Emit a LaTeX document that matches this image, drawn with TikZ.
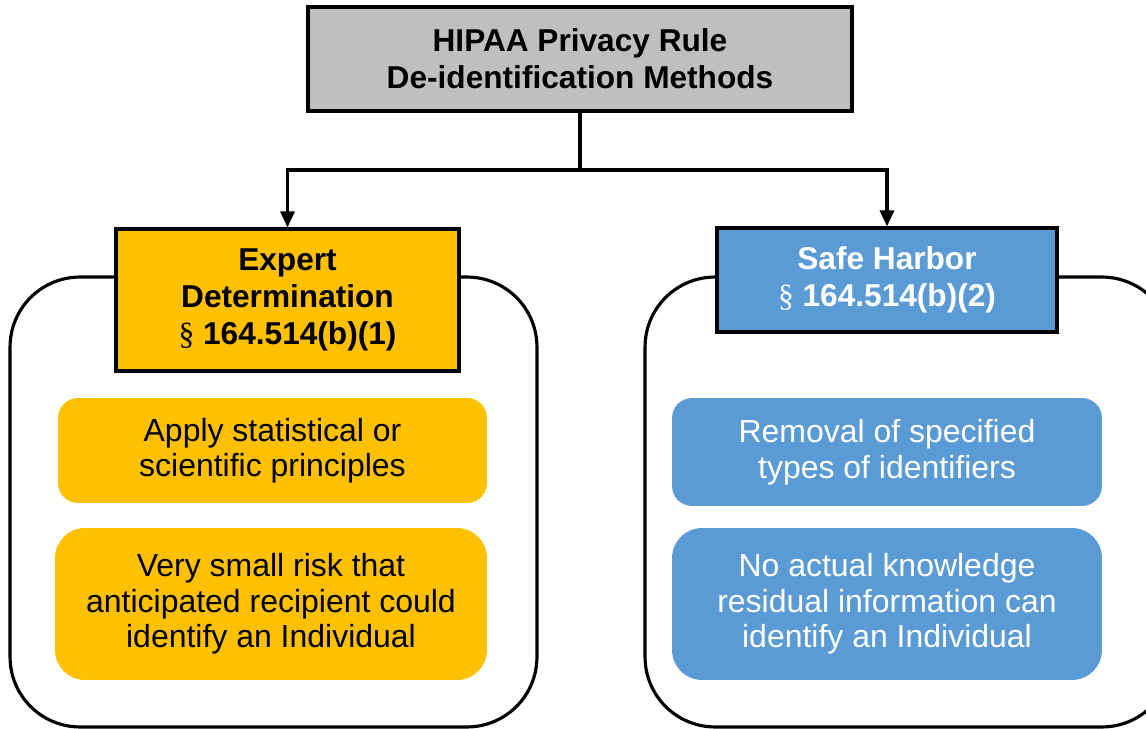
\documentclass[tikz,border=0pt]{standalone}
\usepackage{fontspec}
\setmainfont{Liberation Sans}
\newfontfamily\paragraphfont{Liberation Serif}
\usetikzlibrary{arrows.meta}
\definecolor{hipaagray}{HTML}{BFBFBF}
\definecolor{hipaagold}{HTML}{FFC000}
\definecolor{hipaablue}{HTML}{5B9BD5}
\newcommand{\sect}{{\paragraphfont\mdseries\S}}
\tikzset{
  headbox/.style={draw=black,line width=1.8pt,align=center,font=\fontsize{18}{21}\selectfont\bfseries},
  groupbox/.style={draw=black,line width=1.8pt,rounded corners=1.4cm},
  stepbox/.style={rounded corners=0.4cm,align=center,font=\fontsize{18.2}{20.2}\selectfont,
    execute at begin node=\rule{0pt}{23pt}},
  link/.style={line width=1.8pt,-{Triangle[length=0.32cm,width=0.28cm]}}
}

\begin{document}
\begin{tikzpicture}[x=0.02cm,y=-0.02cm]
\path[use as bounding box,clip] (0,0) rectangle (1146,729);
% outer frames
\node (leftgroup)  [groupbox,minimum width=10.54cm,minimum height=9cm] at (273.5,502) {};
\node (rightgroup) [groupbox,minimum width=10.54cm,minimum height=9cm] at (908.5,502) {};
% headings
\node (title)  [headbox,fill=hipaagray,minimum width=10.88cm,minimum height=2.08cm] at (580,59) {HIPAA Privacy Rule\\De-identification Methods};
\node (expert) [headbox,fill=hipaagold,minimum width=6.86cm,minimum height=2.84cm] at (287.5,300) {Expert\\Determination\\\sect{} 164.514(b)(1)};
\node (safe)   [headbox,fill=hipaablue,text=white,minimum width=6.8cm,minimum height=2.08cm] at (887,280) {Safe Harbor\\\sect{} 164.514(b)(2)};
% contents
\node (apply) [stepbox,fill=hipaagold,minimum width=8.58cm,minimum height=2.1cm] at (272.5,450.5) {Apply statistical or\\scientific principles};
\node (risk)  [stepbox,fill=hipaagold,rounded corners=0.6cm,minimum width=8.64cm,minimum height=3.04cm] at (271,604) {Very small risk that\\anticipated recipient could\\identify an Individual};
\node (removal)   [stepbox,fill=hipaablue,text=white,minimum width=8.6cm,minimum height=2.16cm] at (887,452) {Removal of specified\\types of identifiers};
\node (knowledge) [stepbox,fill=hipaablue,text=white,rounded corners=0.6cm,minimum width=8.6cm,minimum height=3.04cm] at (887,604) {No actual knowledge\\residual information can\\identify an Individual};
% connectors
\coordinate (split) at (580,170);
\draw[link] (title.south) -- (split) -| (expert.north);
\draw[link] (split) -| (safe.north);
\end{tikzpicture}
\end{document}
